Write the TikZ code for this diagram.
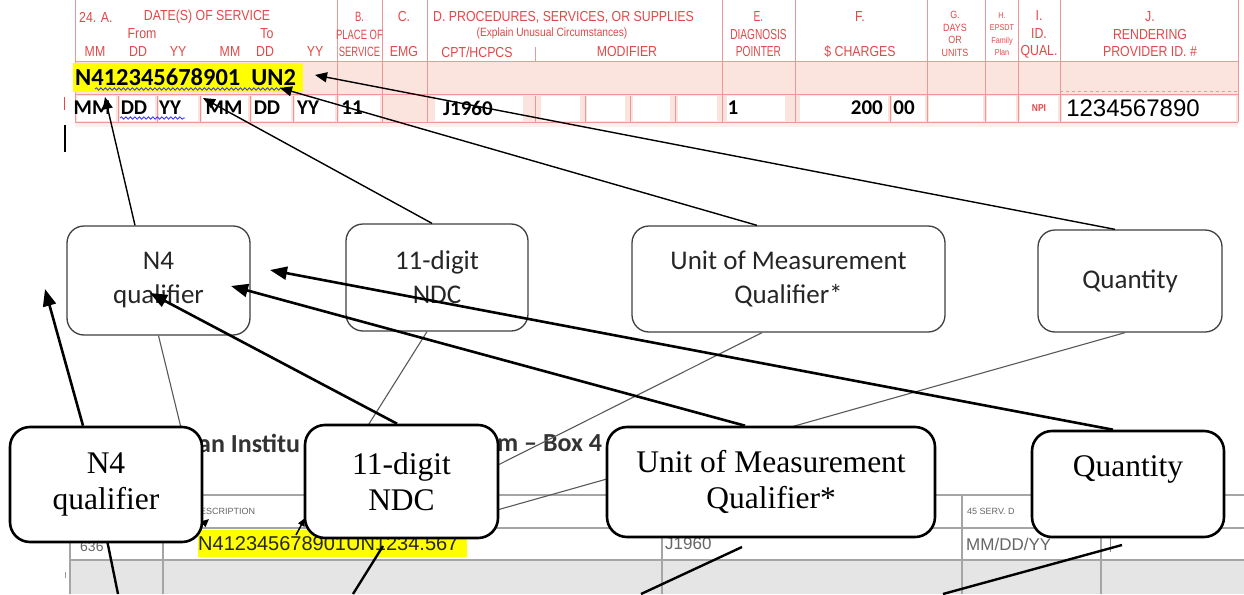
\documentclass[tikz,border=0pt]{standalone}
\usepackage{fontspec}
\setmainfont{Liberation Serif}
\newfontfamily\calfont{Carlito}
\newfontfamily\arialfont{Liberation Sans}
\newfontfamily\formfont[FakeStretch=0.85]{Liberation Sans}
\newfontfamily\narrowfont[FakeStretch=0.7]{Liberation Sans}
\usetikzlibrary{arrows.meta,positioning,calc,decorations.pathmorphing}
\definecolor{formred}{RGB}{226,72,72}
\definecolor{formline}{RGB}{240,150,150}
\definecolor{formpink}{RGB}{252,228,222}
\definecolor{hiyellow}{RGB}{255,255,0}
\definecolor{tablegrey}{RGB}{165,165,165}

\begin{document}
\begin{tikzpicture}[x=1pt, y=-1pt,
    hd/.style={inner sep=0, text=formred, align=center, font=\formfont\fontsize{14.5}{17.5}\selectfont},
    hdn/.style={hd, font=\narrowfont\fontsize{13.5}{17.5}\selectfont},
    hds/.style={inner sep=0, text=formred, align=center, font=\formfont\fontsize{10.5}{12.5}\selectfont},
    entry/.style={inner sep=0, font=\calfont\bfseries\fontsize{21}{21}\selectfont},
    scr/.style={inner sep=0, text=black!60, font=\arialfont\fontsize{17}{17}\selectfont},
    mbox/.style={rectangle, rounded corners=17pt, draw=black!75, line width=1.3pt,
        fill=white, align=center, inner sep=0, text=black!85, font=\calfont\fontsize{27}{34}\selectfont},
    lbox/.style={rectangle, rounded corners=20pt, draw=black, line width=2.6pt,
        fill=white, align=center, inner sep=0, font=\fontsize{31.5}{36}\selectfont},
    farr/.style={-{Triangle[length=12pt,width=10pt]}, line width=1.4pt},
    barr/.style={-{Triangle[length=17pt,width=13pt]}, line width=2.6pt},
    shot/.style={line width=1.1pt, black!65},
    downl/.style={line width=2.4pt},
    wavy/.style={blue!80, line width=0.8pt, decorate,
        decoration={snake, amplitude=1.2pt, segment length=4.5pt}}
]
    \useasboundingbox (0,0) rectangle (1244,594);
    \fill[white] (0,0) rectangle (1244,594);

    % claim form strip
    \fill[formpink] (75,62) rectangle (1238,122);
    \foreach \a/\b in {77/116,120/155,159/198,202/248,252/291,295/335,339/380,
        435/523,541/580,587/625,633/670,678/717,727/785,800/888,892/925,
        929/983,987/1016,1020/1058,1062/1236}
        \fill[white] (\a,96) rectangle (\b,121);
    \fill[formpink!60] (75,122) rectangle (1238,127);
    \draw[formline, line width=1pt] (75,62) -- (1238,62) (75,122) -- (1238,122);
    \draw[formline, line width=0.5pt] (75,94.5) -- (1238,94.5);
    \foreach \x in {75,337,382,427,722,795,927,985,1018,1060,1238}
        \draw[formline, line width=1pt] (\x,0) -- (\x,122);
    \foreach \x in {118,157,200,250,293,535,585,630,675,890}
        \draw[formline, line width=0.8pt] (\x,96) -- (\x,122);
    \draw[formline, line width=0.8pt] (535,47) -- (535,62);
    \draw[formline, dashed, line width=0.6pt] (1060,91) -- (1238,91);
    \draw[formred, line width=1pt] (64,97) -- (64,110);
    \draw[line width=1.5pt] (65,125) -- (65,152);

    \node[hd, anchor=west] (h24) at (79,17) {24. A.};
    \node[hd] (hdate) at (207,17) {DATE(S) OF SERVICE};
    \node[hd] (hfrom) at (142,34) {From};
    \node[hd] (hto) at (267,34) {To};
    \foreach \t/\x in {MM/95,DD/138,YY/178,MM/230,DD/265,YY/315}
        \node[hd] (hs\x) at (\x,52) {\t};
    \node[hdn] (hB) at (359.5,34.5) {B.\\PLACE OF\\SERVICE};
    \node[hd] (hC) at (404,17) {C.};
    \node[hd] (hEMG) at (404,52) {EMG};
    \node[hd, anchor=west] (hD) at (433,17) {D. PROCEDURES, SERVICES, OR SUPPLIES};
    \node[hd, font=\formfont\fontsize{12}{12}\selectfont] (hexpl) at (552,33) {(Explain Unusual Circumstances)};
    \node[hd] (hcpt) at (477,52) {CPT/HCPCS};
    \node[hd] (hmod) at (627,52) {MODIFIER};
    \node[hdn, font=\narrowfont\fontsize{14.5}{17.5}\selectfont] (hE) at (758.5,34.5) {E.\\DIAGNOSIS\\POINTER};
    \node[hd] (hF) at (860,17) {F.};
    \node[hd] (hchg) at (860,52) {\$ CHARGES};
    \node[hds] (hG) at (955,34) {G.\\DAYS\\OR\\UNITS};
    \node[hds, font=\formfont\fontsize{8.5}{12.5}\selectfont] (hH) at (1002,34) {H.\\EPSDT\\Family\\Plan};
    \node[hd] (hI) at (1039,34.5) {I.\\ID.\\QUAL.};
    \node[hd] (hJ) at (1150,34.5) {J.\\RENDERING\\PROVIDER ID. \#};

    \fill[hiyellow] (73,63) rectangle (303,92);
    \node[entry, anchor=west, font=\calfont\bfseries\fontsize{24.5}{24}\selectfont] (ndcline) at (75,77) {N412345678901\ \ UN2};
    \foreach \t/\x in {MM/92,DD/134,YY/170,MM/224,DD/267,YY/308,11/352,J1960/468,1/733}
        \node[entry] (r\x) at (\x,108) {\t};
    \node[entry, anchor=east] (rdol) at (883,108) {200};
    \node[entry] (rcts) at (904,108) {00};
    \node[hds, font=\formfont\bfseries\fontsize{10}{10}\selectfont] (rnpi) at (1039,108) {NPI};
    \node[inner sep=0, font=\arialfont\fontsize{24}{24}\selectfont] (rnpinum) at (1133,108) {1234567890};
    \draw[wavy] (95,89) -- (292,89);
    \draw[wavy] (120,118) -- (185,118);

    % institutional claim screenshot
    \node[inner sep=0, anchor=west, text=black!80, font=\calfont\bfseries\fontsize{26}{26}\selectfont] (ttl1) at (198,443) {an Institu};
    \node[inner sep=0, anchor=west, text=black!80, font=\calfont\bfseries\fontsize{26}{26}\selectfont] (ttl2) at (497,443) {m – Box 4};
    \fill[black!10] (70,560) rectangle (1244,594);
    \draw[tablegrey, line width=1.2pt] (163,495) -- (1244,495) (70,528) -- (1244,528) (70,560) -- (1244,560);
    \draw[tablegrey, line width=1.2pt] (70,528) -- (70,594);
    \foreach \x in {163,662,962,1101}
        \draw[tablegrey, line width=1.2pt] (\x,495) -- (\x,594);
    \node[scr, anchor=west, font=\arialfont\fontsize{9}{9}\selectfont] (tdesc) at (200,511) {ESCRIPTION};
    \node[scr, anchor=west, font=\arialfont\fontsize{9}{9}\selectfont] (tserv) at (967,511) {45 SERV. D};
    \node[scr, anchor=west, font=\arialfont\fontsize{14}{14}\selectfont] (trev) at (80,547) {636};
    \fill[hiyellow] (198,530) rectangle (467,557);
    \node[scr, anchor=west, text=black!85, font=\arialfont\fontsize{20}{20}\selectfont] (tndc) at (198,544) {N412345678901UN1234.567};
    \node[scr, anchor=west] (tcode) at (665,544) {J1960};
    \node[scr, anchor=west] (tdate) at (966,544) {MM/DD/YY};
    \draw[black!45, line width=1pt] (1110,538) -- (1110,552);
    \draw[black!40, line width=0.8pt] (65,532) -- (65,538) (65,572) -- (65,578);

    % callout boxes
    \node[mbox, minimum width=183pt, minimum height=109pt] (mN4) at (158.5,280.5) {N4\\qualifier};
    \node[mbox, minimum width=182pt, minimum height=107pt] (mNDC) at (437,277.5) {11-digit\\NDC};
    \node[mbox, minimum width=313pt, minimum height=106pt] (mUnit) at (788.5,279) {Unit of Measurement\\Qualifier*};
    \node[mbox, minimum width=184pt, minimum height=102pt] (mQty) at (1130,281) {Quantity};

    \coordinate (tMM) at (105,97);
    \coordinate (tMM2) at (203,98);
    \coordinate (tUN) at (280,88);
    \coordinate (tN2) at (315,75);
    \draw[farr] ([xshift=-23.5pt]mN4.north) -- (tMM);
    \draw[farr] ([xshift=-5pt]mNDC.north) -- (tMM2);
    \draw[farr] ([xshift=-31.5pt]mUnit.north) -- (tUN);
    \draw[farr] ([xshift=-15pt]mQty.north) -- (tN2);

    \draw[shot] (mN4.south) -- (184,440);
    \draw[shot] ([xshift=-10pt]mNDC.south) -- (362,435);
    \draw[shot] ([xshift=-26.5pt]mUnit.south) -- (490,469);
    \draw[shot] ([xshift=-5pt]mQty.south) -- (490,512);

    \draw[downl] (107,540) -- (118,594);
    \draw[downl] (383,546) -- (353,594);
    \draw[downl] (742,547) -- (641,594);
    \draw[downl] (1122,545) -- (943,594);
    \draw[-{Triangle[length=8pt,width=7pt]}, line width=1.5pt] (190,536) -- (209,519);
    \draw[-{Triangle[length=8pt,width=7pt]}, line width=1.5pt] (296,535) -- (305,518);

    \node[lbox, minimum width=192pt, minimum height=115pt] (lN4) at (106,484.5) {N4\\qualifier};
    \node[lbox, minimum width=193pt, minimum height=113pt] (lNDC) at (401.5,481.5) {11-digit\\NDC};
    \node[lbox, minimum width=328pt, minimum height=110pt] (lUnit) at (771,482) {Unit of Measurement\\Qualifier*};
    \node[lbox, minimum width=192pt, minimum height=106pt] (lQty) at (1128,484) {Quantity\\\mbox{}};

    \coordinate (pLeft) at (45,289);
    \coordinate (pQual) at (150,293);
    \coordinate (pIn) at (231,286);
    \coordinate (pOut) at (270,270);
    \draw[barr] ([xshift=-23pt]lN4.north) -- (pLeft);
    \draw[barr] ([xshift=-4.5pt]lNDC.north) -- (pQual);
    \draw[barr] ([xshift=-26pt]lUnit.north) -- (pIn);
    \draw[barr] ([xshift=-15pt]lQty.north) -- (pOut);
\end{tikzpicture}
\end{document}
